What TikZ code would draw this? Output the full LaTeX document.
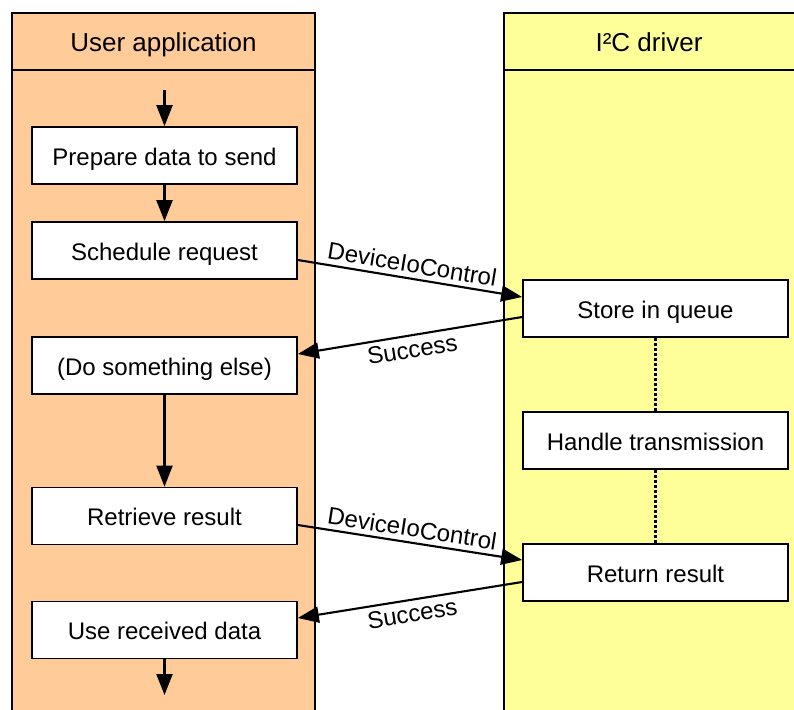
\documentclass[tikz,border=0pt]{standalone}
\usepackage{fontspec}
\setmainfont{Liberation Sans}
\usetikzlibrary{arrows.meta}
\definecolor{peach}{RGB}{255,204,153}
\definecolor{paleyellow}{RGB}{255,255,153}
\tikzset{
  stepbox/.style={draw=black, fill=white, line width=1.7pt, minimum width=265pt, minimum height=57pt, inner sep=0pt, text height=20pt, text depth=0.8pt, font=\fontsize{24}{28}\selectfont},
  lanehead/.style={font=\fontsize{26}{30}\selectfont, inner sep=0pt, anchor=base},
  flow/.style={line width=2.1pt, -{Triangle[length=21pt,width=16pt]}},
  msg/.style={font=\fontsize{24}{28}\selectfont, sloped, inner sep=4.5pt},
  waitline/.style={line width=2.3pt, dash pattern=on 3pt off 2pt},
  laneborder/.style={line width=2.2pt}
}
\begin{document}
\begin{tikzpicture}[x=1pt,y=-1pt]
\useasboundingbox (0,0) rectangle (794,709);
\clip (0,0) rectangle (794,709);
% lanes
\fill[peach] (12,13) rectangle (315,720);
\fill[paleyellow] (504,13) rectangle (800,720);
\draw[laneborder] (12,720) -- (12,13) -- (315,13) -- (315,720);
\draw[laneborder] (12,70) -- (315,70);
\draw[laneborder] (504,720) -- (504,13) -- (800,13);
\draw[laneborder] (504,70) -- (800,70);
\node[lanehead] (uh) at (163.5,51.7) {User application};
\node[lanehead] (dh) at (649,51.7) {I²C driver};
% left boxes
\node[stepbox] (prep) at (164.5,155.5) {Prepare data to send};
\node[stepbox] (sched) at (164.5,250.5) {Schedule request};
\node[stepbox] (else) at (164.5,365.5) {(Do something else)};
\node[stepbox] (retr) at (164.5,516) {Retrieve result};
\node[stepbox] (use) at (164.5,630) {Use received data};
% right boxes
\node[stepbox] (store) at (655.5,308.5) {Store in queue};
\node[stepbox] (handle) at (655.5,440.5) {Handle transmission};
\node[stepbox] (ret) at (655.5,572.5) {Return result};
% free ends
\coordinate (start) at (164.5,90);
\coordinate (finish) at (164.5,695);
% flow
\draw[flow] (start) -- (prep.north);
\draw[flow] (prep.south) -- (sched.north);
\draw[flow] (else.south) -- (retr.north);
\draw[flow] (use.south) -- (finish);
% messages
\draw[flow] ([yshift=-9.5pt]sched.east) -- node[msg, midway, above] {DeviceIoControl} ([yshift=11.5pt]store.west);
\draw[flow] ([yshift=-8.5pt]store.west) -- node[msg, midway, below] {Success} ([yshift=11.5pt]else.east);
\draw[flow] ([yshift=-9pt]retr.east) -- node[msg, midway, above] {DeviceIoControl} ([yshift=12.5pt]ret.west);
\draw[flow] ([yshift=-9.5pt]ret.west) -- node[msg, midway, below] {Success} ([yshift=12pt]use.east);
% waiting
\draw[waitline] (store.south) -- (handle.north);
\draw[waitline] (handle.south) -- (ret.north);
\end{tikzpicture}
\end{document}
